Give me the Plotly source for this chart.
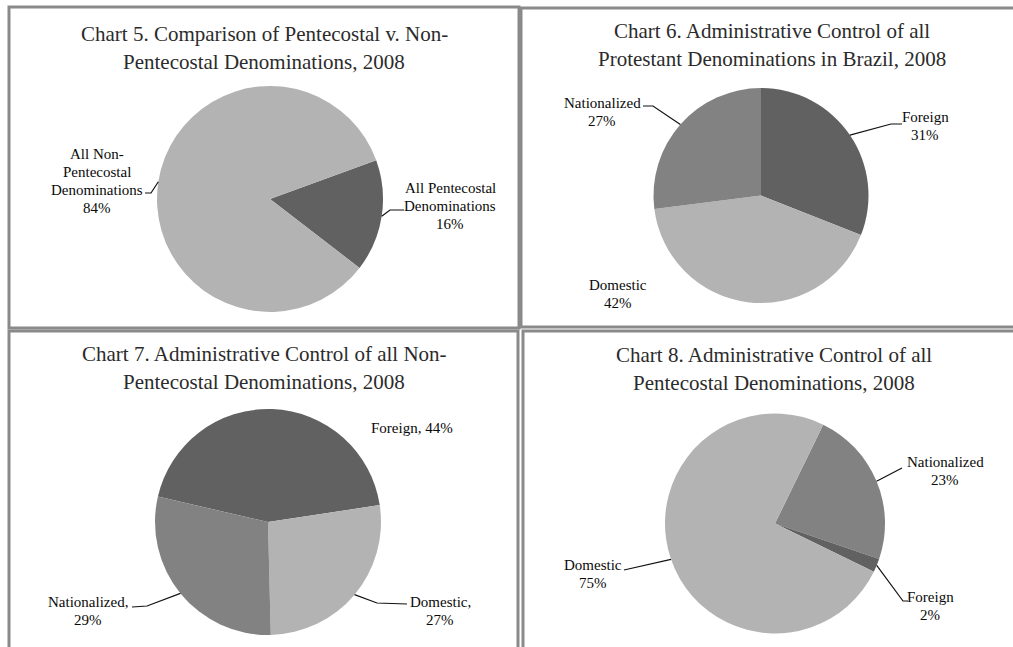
import math
import plotly.graph_objects as go

W, H = 1013, 647

# ---------------- data ----------------
chart5_labels = ["All Pentecostal Denominations", "All Non-Pentecostal Denominations"]
chart5_values = [16, 84]

chart6_labels = ["Foreign", "Domestic", "Nationalized"]
chart6_values = [31, 42, 27]

chart7_labels = ["Foreign", "Domestic", "Nationalized"]
chart7_values = [44, 27, 29]

chart8_labels = ["Nationalized", "Foreign", "Domestic"]
chart8_values = [23, 2, 75]

titles = [
    "Chart 5. Comparison of Pentecostal v. Non-<br>Pentecostal Denominations, 2008",
    "Chart 6. Administrative Control of all<br>Protestant Denominations in Brazil, 2008",
    "Chart 7. Administrative Control of all Non-<br>Pentecostal Denominations, 2008",
    "Chart 8. Administrative Control of all<br>Pentecostal Denominations, 2008",
]

# ---------------- styles ----------------
DARK, MID, LIGHT = "#616161", "#828282", "#b3b3b3"
color_map = {
    "All Pentecostal Denominations": DARK,
    "All Non-Pentecostal Denominations": LIGHT,
    "Foreign": DARK,
    "Domestic": LIGHT,
    "Nationalized": MID,
}
SERIF = "Liberation Serif, Times New Roman, serif"


def px(x):
    return x / W


def py(y):
    return 1 - y / H


# pie geometry (pixel centre, radius, rotation)
pies = [
    dict(labels=chart5_labels, values=chart5_values, c=(270, 199), r=113, rot=70,
         title_xy=(264, 48),
         ann=[dict(text="All Pentecostal<br>Denominations<br>16%", pos=(450, 206),
                   path=[(390, 210), (404, 210)]),
              dict(text="All Non-<br>Pentecostal<br>Denominations<br>84%", pos=(97, 181),
                   path=[(151, 193), (145, 193)])]),
    dict(labels=chart6_labels, values=chart6_values, c=(761, 195.5), r=107.5, rot=0,
         title_xy=(772, 45),
         ann=[dict(text="Foreign<br>31%", pos=(925, 126), path=[(891, 124), (902, 124)]),
              dict(text="Domestic<br>42%", pos=(618, 294), path=None),
              dict(text="Nationalized<br>27%", pos=(602, 112), path=[(653, 106), (643, 106)])]),
    dict(labels=chart7_labels, values=chart7_values, c=(268, 522), r=113, rot=-77,
         title_xy=(264, 368),
         ann=[dict(text="Foreign, 44%", pos=(412, 428), path=None),
              dict(text="Domestic,<br>27%", pos=(440, 611), path=[(377, 603), (407, 604)]),
              dict(text="Nationalized,<br>29%", pos=(88, 611), path=[(147, 606), (132, 607)])]),
    dict(labels=chart8_labels, values=chart8_values, c=(775, 523.5), r=110, rot=26,
         title_xy=(774, 369),
         ann=[dict(text="Nationalized<br>23%", pos=(945, 471), path=[(902, 468)]),
              dict(text="Foreign<br>2%", pos=(930, 606), path=[(903, 601), (908, 601)]),
              dict(text="Domestic<br>75%", pos=(593, 574), path=[(624, 570)])]),
]

fig = go.Figure()
annotations = []
shapes = []


def add_text_block(text, x, y, size, color, spacing):
    lines = text.split("<br>")
    n = len(lines)
    for k, line in enumerate(lines):
        yy = y + (k - (n - 1) / 2) * spacing
        annotations.append(dict(text=line, x=px(x), y=py(yy), xref="paper", yref="paper",
                                showarrow=False, xanchor="center", yanchor="middle",
                                font=dict(family=SERIF, size=size, color=color)))


for i, p in enumerate(pies):
    cx, cy = p["c"]
    r = p["r"]
    fig.add_trace(go.Pie(
        labels=p["labels"], values=p["values"], sort=False, direction="clockwise",
        rotation=p["rot"], textinfo="none", hoverinfo="label+percent",
        marker=dict(colors=[color_map[l] for l in p["labels"]], line=dict(width=0)),
        domain=dict(x=[px(cx - r), px(cx + r)], y=[py(cy + r), py(cy - r)]),
        showlegend=False,
    ))
    # title
    tx, ty = p["title_xy"]
    add_text_block(titles[i], tx, ty, 21, "#2b2b2b", 27.5)
    # labels + leader lines anchored at slice mid-angle on the rim
    total = sum(p["values"])
    cum = 0
    for v, a in zip(p["values"], p["ann"]):
        mid = p["rot"] + 360 * (cum + v / 2) / total
        cum += v
        ang = math.radians(mid)
        ex, ey = cx + r * math.sin(ang), cy - r * math.cos(ang)
        lx, ly = a["pos"]
        add_text_block(a["text"], lx, ly, 15, "#0a0a0a", 18)
        if a["path"]:
            pts = [(ex, ey)] + a["path"]
            d = "M " + " L ".join(f"{px(x):.5f},{py(y):.5f}" for x, y in pts)
            shapes.append(dict(type="path", path=d, xref="paper", yref="paper",
                               line=dict(color="#111111", width=1.2)))

# panel borders
BORDER = "#8a8a8a"
for (x0, y0, x1, y1) in [(9, 7, 519, 328), (521, 8, 1030, 327), (9, 331, 518, 670), (523, 331, 1030, 670)]:
    shapes.append(dict(type="rect", xref="paper", yref="paper",
                       x0=px(x0), x1=px(x1), y0=py(y1), y1=py(y0),
                       line=dict(color=BORDER, width=3)))

fig.update_layout(
    width=W, height=H,
    margin=dict(l=0, r=0, t=0, b=0),
    paper_bgcolor="white", plot_bgcolor="white",
    annotations=annotations, shapes=shapes,
)

fig.write_html("out.html")
